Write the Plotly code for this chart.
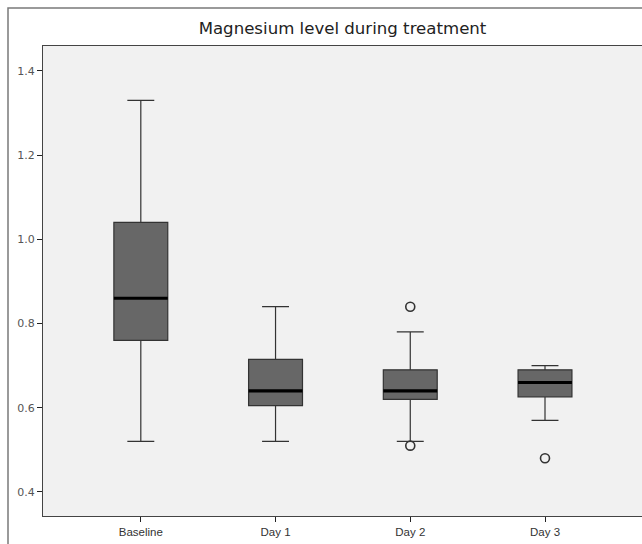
import plotly.graph_objects as go

categories = ["Baseline", "Day 1", "Day 2", "Day 3"]
lower_whisker = [0.52, 0.52, 0.52, 0.57]
q1 = [0.76, 0.605, 0.62, 0.626]
median = [0.86, 0.64, 0.64, 0.66]
q3 = [1.04, 0.715, 0.69, 0.69]
upper_whisker = [1.33, 0.84, 0.78, 0.70]
outlier_cat = ["Day 2", "Day 2", "Day 3"]
outlier_val = [0.84, 0.51, 0.48]
y_ticks = [0.4, 0.6, 0.8, 1.0, 1.2, 1.4]

pos = list(range(len(categories)))
BOX_W = 0.4

fig = go.Figure()
fig.add_trace(go.Box(
    x=pos, q1=q1, median=median, q3=q3,
    lowerfence=lower_whisker, upperfence=upper_whisker,
    width=BOX_W, whiskerwidth=0.5, boxpoints=False,
    fillcolor="#676767", line=dict(color="#333333", width=1.2),
    hoverinfo="skip", showlegend=False,
))

mx, my = [], []
for p, m in zip(pos, median):
    mx += [p - BOX_W / 2, p + BOX_W / 2, None]
    my += [m, m, None]
fig.add_trace(go.Scatter(x=mx, y=my, mode="lines",
                         line=dict(color="#000000", width=3.2),
                         showlegend=False, hoverinfo="skip"))

ox = [categories.index(c) for c in outlier_cat]
fig.add_trace(go.Scatter(x=ox, y=outlier_val, mode="markers",
                         marker=dict(symbol="circle-open", size=9,
                                     color="#333333", line=dict(width=1.6)),
                         showlegend=False, hoverinfo="skip"))

W, H = 642, 544
ML, MR, MT, MB = 43, 0, 46, 28
pw, ph = W - ML - MR, H - MT - MB

fig.add_shape(type="rect", xref="paper", yref="paper",
              x0=(8 - ML) / pw, x1=1 + 20 / pw,
              y0=-(MB + 20) / ph, y1=1 + (MT - 8) / ph,
              line=dict(color="#7a7a7a", width=1.5), fillcolor="rgba(0,0,0,0)",
              layer="below")

fig.update_layout(
    template="none",
    width=W, height=H,
    margin=dict(l=ML, r=MR, t=MT, b=MB, autoexpand=False),
    paper_bgcolor="#ffffff", plot_bgcolor="#f1f1f1",
    font=dict(family="Liberation Sans, Arial, sans-serif", color="#333333"),
    title=dict(text="Magnesium level during treatment", x=0.5, xref="paper",
               xanchor="center", y=1 - 28 / H, yanchor="middle", automargin=False,
               font=dict(size=16.6, family="DejaVu Sans", color="#222222")),
    xaxis=dict(range=[-0.726, 3.72], tickvals=pos, ticktext=categories,
               automargin=False,
               showgrid=False, zeroline=False, showline=True, mirror=True,
               linecolor="#444444", linewidth=1, ticks="outside", ticklen=5,
               tickcolor="#222222", tickfont=dict(size=11.5, color="#333333")),
    yaxis=dict(range=[0.343, 1.459], tickvals=y_ticks,
               ticktext=[f"{v:.1f}" for v in y_ticks], automargin=False,
               showgrid=False, zeroline=False, showline=True, mirror=False,
               linecolor="#444444", linewidth=1, ticks="outside", ticklen=5,
               tickcolor="#222222",
               tickfont=dict(size=11, family="DejaVu Sans", color="#555555")),
)

fig.write_html("out.html", config={"displayModeBar": False},
               post_script="document.body.style.margin='0';document.body.style.overflow='hidden';")
